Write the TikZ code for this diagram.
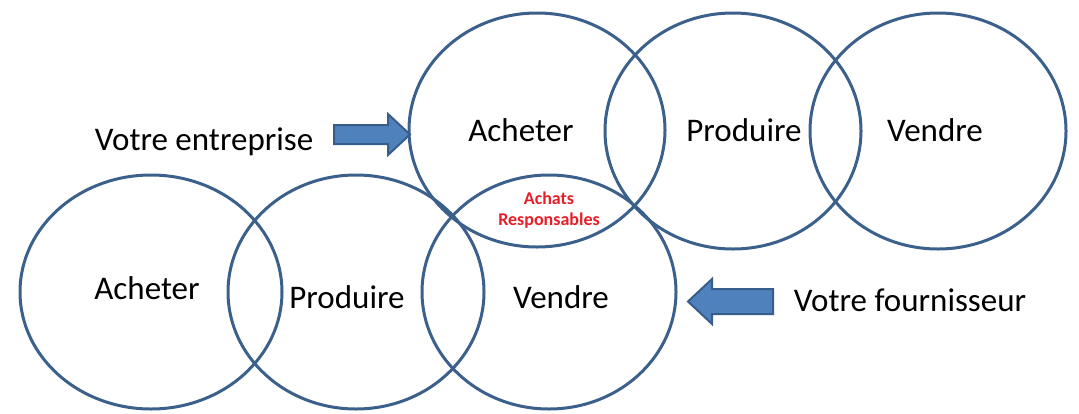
\documentclass[tikz,border=0pt]{standalone}
\usepackage{fontspec}
\setmainfont{Carlito}
\usetikzlibrary{shapes.geometric}
\definecolor{ringblue}{RGB}{60,96,140}
\definecolor{arrowfill}{RGB}{79,129,189}
\definecolor{arrowline}{RGB}{56,93,138}
\definecolor{redtxt}{RGB}{230,30,40}
\begin{document}
\begin{tikzpicture}[x=1pt,y=-1pt,
  ring/.style={draw=ringblue,line width=3pt,ellipse,inner sep=0pt},
  lab/.style={anchor=base,font=\fontsize{33}{40}\selectfont,text=black,inner sep=0pt},
  blockarrow/.style={fill=arrowfill,draw=arrowline,line width=2pt,line join=miter}]
\useasboundingbox (0,0) rectangle (1079,413);
% top row
\node[ring,minimum width=256pt,minimum height=234pt] (tA) at (537,130) {};
\node[ring,minimum width=256pt,minimum height=236pt] (tP) at (733,131) {};
\node[ring,minimum width=256pt,minimum height=236pt] (tV) at (938,131) {};
% bottom row
\node[ring,minimum width=262pt,minimum height=234pt] (bA) at (151,292) {};
\node[ring,minimum width=256pt,minimum height=234pt] (bP) at (356,292) {};
\node[ring,minimum width=254pt,minimum height=234pt] (bV) at (549,292) {};
% labels
\node[lab] (ltA) at (521,141) {Acheter};
\node[lab] (ltP) at (744,141) {Produire};
\node[lab] (ltV) at (935,141) {Vendre};
\node[lab] (lbA) at (147,299) {Acheter};
\node[lab] (lbP) at (347,308) {Produire};
\node[lab] (lbV) at (561,308) {Vendre};
\node[lab] (ent) at (204,150) {Votre entreprise};
\node[lab] (four) at (910,311) {Votre fournisseur};
\node[align=center,text=redtxt,font=\bfseries\fontsize{18}{21}\selectfont,inner sep=0pt] (resp) at (549,210) {Achats\\Responsables};
% block arrows
\draw[blockarrow] (334,125) -- (388,125) -- (388,114) -- (410,134.5) -- (388,155) -- (388,144) -- (334,144) -- cycle;
\draw[blockarrow] (773,289) -- (712,289) -- (712,279) -- (688,301.5) -- (712,324) -- (712,314) -- (773,314) -- cycle;
\end{tikzpicture}
\end{document}
